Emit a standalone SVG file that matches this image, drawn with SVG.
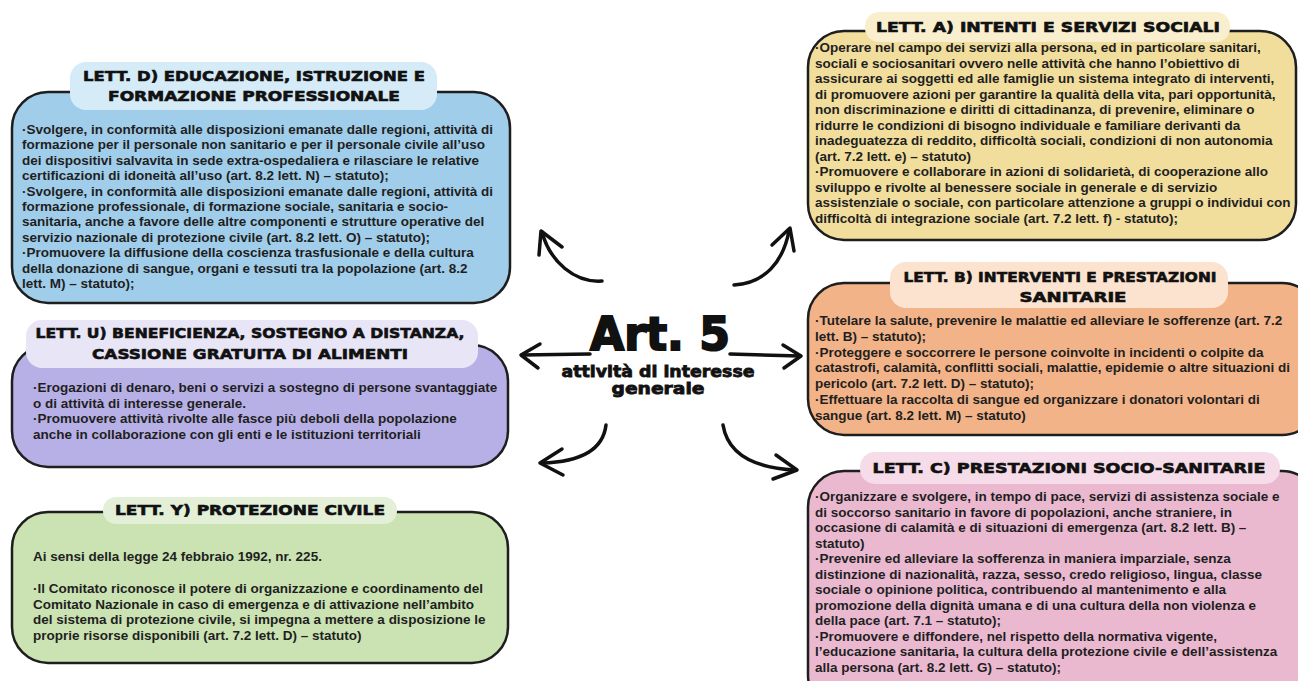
<svg xmlns="http://www.w3.org/2000/svg" width="1298" height="681" viewBox="0 0 1298 681">
<style>
.box{stroke:#1e1e1e;stroke-width:2.5}
.ttl{font-family:"DejaVu Sans",sans-serif;font-weight:bold;font-size:14px;fill:#111;stroke:#111;stroke-width:0.6;text-anchor:middle}
.bd{font-family:"Liberation Sans",Arial,sans-serif;font-weight:bold;font-size:13.5px;fill:#1f1f1f}
.arr{fill:none;stroke:#111;stroke-width:3.5;stroke-linecap:round;stroke-linejoin:round}
.big{font-family:"DejaVu Sans",sans-serif;font-weight:bold;fill:#111;stroke:#111;text-anchor:middle}
</style>
<rect width="1298" height="681" fill="#fff"/>

<g id="node-d">
<rect class="box" x="12" y="92" width="498" height="211" rx="36" fill="#a0cdea"/>
<rect x="70" y="62" width="367" height="48" rx="16" fill="#d5ebf7"/>
<text class="ttl" x="254" y="81" textLength="342" lengthAdjust="spacingAndGlyphs">LETT. D) EDUCAZIONE, ISTRUZIONE E</text>
<text class="ttl" x="254" y="101" textLength="292" lengthAdjust="spacingAndGlyphs">FORMAZIONE PROFESSIONALE</text>
<text class="bd" x="22" y="134">·Svolgere, in conformità alle disposizioni emanate dalle regioni, attività di</text>
<text class="bd" x="22" y="149.4">formazione per il personale non sanitario e per il personale civile all’uso</text>
<text class="bd" x="22" y="164.8">dei dispositivi salvavita in sede extra-ospedaliera e rilasciare le relative</text>
<text class="bd" x="22" y="180.2">certificazioni di idoneità all’uso (art. 8.2 lett. N) – statuto);</text>
<text class="bd" x="22" y="195.6">·Svolgere, in conformità alle disposizioni emanate dalle regioni, attività di</text>
<text class="bd" x="22" y="211">formazione professionale, di formazione sociale, sanitaria e socio-</text>
<text class="bd" x="22" y="226.4">sanitaria, anche a favore delle altre componenti e strutture operative del</text>
<text class="bd" x="22" y="241.8">servizio nazionale di protezione civile (art. 8.2 lett. O) – statuto);</text>
<text class="bd" x="22" y="257.2">·Promuovere la diffusione della coscienza trasfusionale e della cultura</text>
<text class="bd" x="22" y="272.6">della donazione di sangue, organi e tessuti tra la popolazione (art. 8.2</text>
<text class="bd" x="22" y="288">lett. M) – statuto);</text>
</g>

<g id="node-u">
<rect class="box" x="12" y="345" width="496" height="122" rx="36" fill="#b7b0e6"/>
<rect x="26" y="320" width="452" height="48" rx="16" fill="#e7e5f6"/>
<text class="ttl" x="250" y="338" textLength="429" lengthAdjust="spacingAndGlyphs">LETT. U) BENEFICIENZA, SOSTEGNO A DISTANZA,</text>
<text class="ttl" x="250" y="359" textLength="316" lengthAdjust="spacingAndGlyphs">CASSIONE GRATUITA DI ALIMENTI</text>
<text class="bd" x="33" y="392">·Erogazioni di denaro, beni o servizi a sostegno di persone svantaggiate</text>
<text class="bd" x="33" y="407.7">o di attività di interesse generale.</text>
<text class="bd" x="33" y="423.4">·Promuovere attività rivolte alle fasce più deboli della popolazione</text>
<text class="bd" x="33" y="439.1">anche in collaborazione con gli enti e le istituzioni territoriali</text>
</g>

<g id="node-y">
<rect class="box" x="12" y="512" width="496" height="151" rx="36" fill="#cbe3b3"/>
<rect x="103" y="497" width="294" height="27" rx="13" fill="#e4efd8"/>
<text class="ttl" x="250" y="515" textLength="270" lengthAdjust="spacingAndGlyphs">LETT. Y) PROTEZIONE CIVILE</text>
<text class="bd" x="33" y="561">Ai sensi della legge 24 febbraio 1992, nr. 225.</text>
<text class="bd" x="33" y="593">·Il Comitato riconosce il potere di organizzazione e coordinamento del</text>
<text class="bd" x="33" y="608.7">Comitato Nazionale in caso di emergenza e di attivazione nell’ambito</text>
<text class="bd" x="33" y="624.4">del sistema di protezione civile, si impegna a mettere a disposizione le</text>
<text class="bd" x="33" y="640.1">proprie risorse disponibili (art. 7.2 lett. D) – statuto)</text>
</g>

<g id="node-a">
<rect class="box" x="808" y="31" width="488" height="209" rx="36" fill="#f1dd9c"/>
<rect x="865" y="12" width="365" height="30" rx="14" fill="#f9efcf"/>
<text class="ttl" x="1048" y="32" textLength="344" lengthAdjust="spacingAndGlyphs">LETT. A) INTENTI E SERVIZI SOCIALI</text>
<text class="bd" x="815" y="52">·Operare nel campo dei servizi alla persona, ed in particolare sanitari,</text>
<text class="bd" x="815" y="67.5">sociali e sociosanitari ovvero nelle attività che hanno l’obiettivo di</text>
<text class="bd" x="815" y="83">assicurare ai soggetti ed alle famiglie un sistema integrato di interventi,</text>
<text class="bd" x="815" y="98.5">di promuovere azioni per garantire la qualità della vita, pari opportunità,</text>
<text class="bd" x="815" y="114">non discriminazione e diritti di cittadinanza, di prevenire, eliminare o</text>
<text class="bd" x="815" y="129.5">ridurre le condizioni di bisogno individuale e familiare derivanti da</text>
<text class="bd" x="815" y="145">inadeguatezza di reddito, difficoltà sociali, condizioni di non autonomia</text>
<text class="bd" x="815" y="160.5">(art. 7.2 lett. e) – statuto)</text>
<text class="bd" x="815" y="176">·Promuovere e collaborare in azioni di solidarietà, di cooperazione allo</text>
<text class="bd" x="815" y="191.5">sviluppo e rivolte al benessere sociale in generale e di servizio</text>
<text class="bd" x="815" y="207">assistenziale o sociale, con particolare attenzione a gruppi o individui con</text>
<text class="bd" x="815" y="222.5">difficoltà di integrazione sociale (art. 7.2 lett. f) - statuto);</text>
</g>

<g id="node-b">
<rect class="box" x="808" y="283" width="510" height="152" rx="36" fill="#f3b388"/>
<rect x="890" y="262" width="338" height="46" rx="16" fill="#fbe3cf"/>
<text class="ttl" x="1060" y="282" textLength="313" lengthAdjust="spacingAndGlyphs">LETT. B) INTERVENTI E PRESTAZIONI</text>
<text class="ttl" x="1073" y="302" textLength="107" lengthAdjust="spacingAndGlyphs">SANITARIE</text>
<text class="bd" x="815" y="325">·Tutelare la salute, prevenire le malattie ed alleviare le sofferenze (art. 7.2</text>
<text class="bd" x="815" y="340.8">lett. B) – statuto);</text>
<text class="bd" x="815" y="356.6">·Proteggere e soccorrere le persone coinvolte in incidenti o colpite da</text>
<text class="bd" x="815" y="372.4">catastrofi, calamità, conflitti sociali, malattie, epidemie o altre situazioni di</text>
<text class="bd" x="815" y="388.2">pericolo (art. 7.2 lett. D) – statuto);</text>
<text class="bd" x="815" y="404">·Effettuare la raccolta di sangue ed organizzare i donatori volontari di</text>
<text class="bd" x="815" y="419.8">sangue (art. 8.2 lett. M) – statuto)</text>
</g>

<g id="node-c">
<rect class="box" x="808" y="471" width="510" height="240" rx="36" fill="#eab9d0"/>
<rect x="860" y="452" width="420" height="32" rx="15" fill="#f6dce8"/>
<text class="ttl" x="1069" y="473" textLength="393" lengthAdjust="spacingAndGlyphs">LETT. C) PRESTAZIONI SOCIO-SANITARIE</text>
<text class="bd" x="815" y="501">·Organizzare e svolgere, in tempo di pace, servizi di assistenza sociale e</text>
<text class="bd" x="815" y="516.5">di soccorso sanitario in favore di popolazioni, anche straniere, in</text>
<text class="bd" x="815" y="532">occasione di calamità e di situazioni di emergenza (art. 8.2 lett. B) –</text>
<text class="bd" x="815" y="547.5">statuto)</text>
<text class="bd" x="815" y="563">·Prevenire ed alleviare la sofferenza in maniera imparziale, senza</text>
<text class="bd" x="815" y="578.5">distinzione di nazionalità, razza, sesso, credo religioso, lingua, classe</text>
<text class="bd" x="815" y="594">sociale o opinione politica, contribuendo al mantenimento e alla</text>
<text class="bd" x="815" y="609.5">promozione della dignità umana e di una cultura della non violenza e</text>
<text class="bd" x="815" y="625">della pace (art. 7.1 – statuto);</text>
<text class="bd" x="815" y="640.5">·Promuovere e diffondere, nel rispetto della normativa vigente,</text>
<text class="bd" x="815" y="656">l’educazione sanitaria, la cultura della protezione civile e dell’assistenza</text>
<text class="bd" x="815" y="671.5">alla persona (art. 8.2 lett. G) – statuto);</text>
</g>

<g id="node-center">
<text class="big" x="660" y="350" font-size="46" stroke-width="2" textLength="140" lengthAdjust="spacingAndGlyphs">Art. 5</text>
<text class="big" x="658" y="377" font-size="16" stroke-width="0.8" textLength="193" lengthAdjust="spacingAndGlyphs">attività di interesse</text>
<text class="big" x="658" y="394" font-size="16" stroke-width="0.8" textLength="93" lengthAdjust="spacingAndGlyphs">generale</text>
</g>

<g id="connectors">
<path class="arr" d="M602,281 C575,283 550,262 542,232"/>
<path class="arr" d="M539,255 L541,231 L562,247"/>
<path class="arr" d="M734,285 C765,283 783,262 789,231"/>
<path class="arr" d="M772,245 L790,228 L794,251"/>
<path class="arr" d="M590,354 L522,355"/>
<path class="arr" d="M540,344 L521,355 L538,368"/>
<path class="arr" d="M730,354 L800,356"/>
<path class="arr" d="M783,345 L801,356 L784,368"/>
<path class="arr" d="M606,425 C603,450 580,462 542,463"/>
<path class="arr" d="M562,449 L540,463 L563,475"/>
<path class="arr" d="M723,425 C728,455 755,468 795,470"/>
<path class="arr" d="M776,455 L797,470 L773,479"/>
</g>
</svg>
